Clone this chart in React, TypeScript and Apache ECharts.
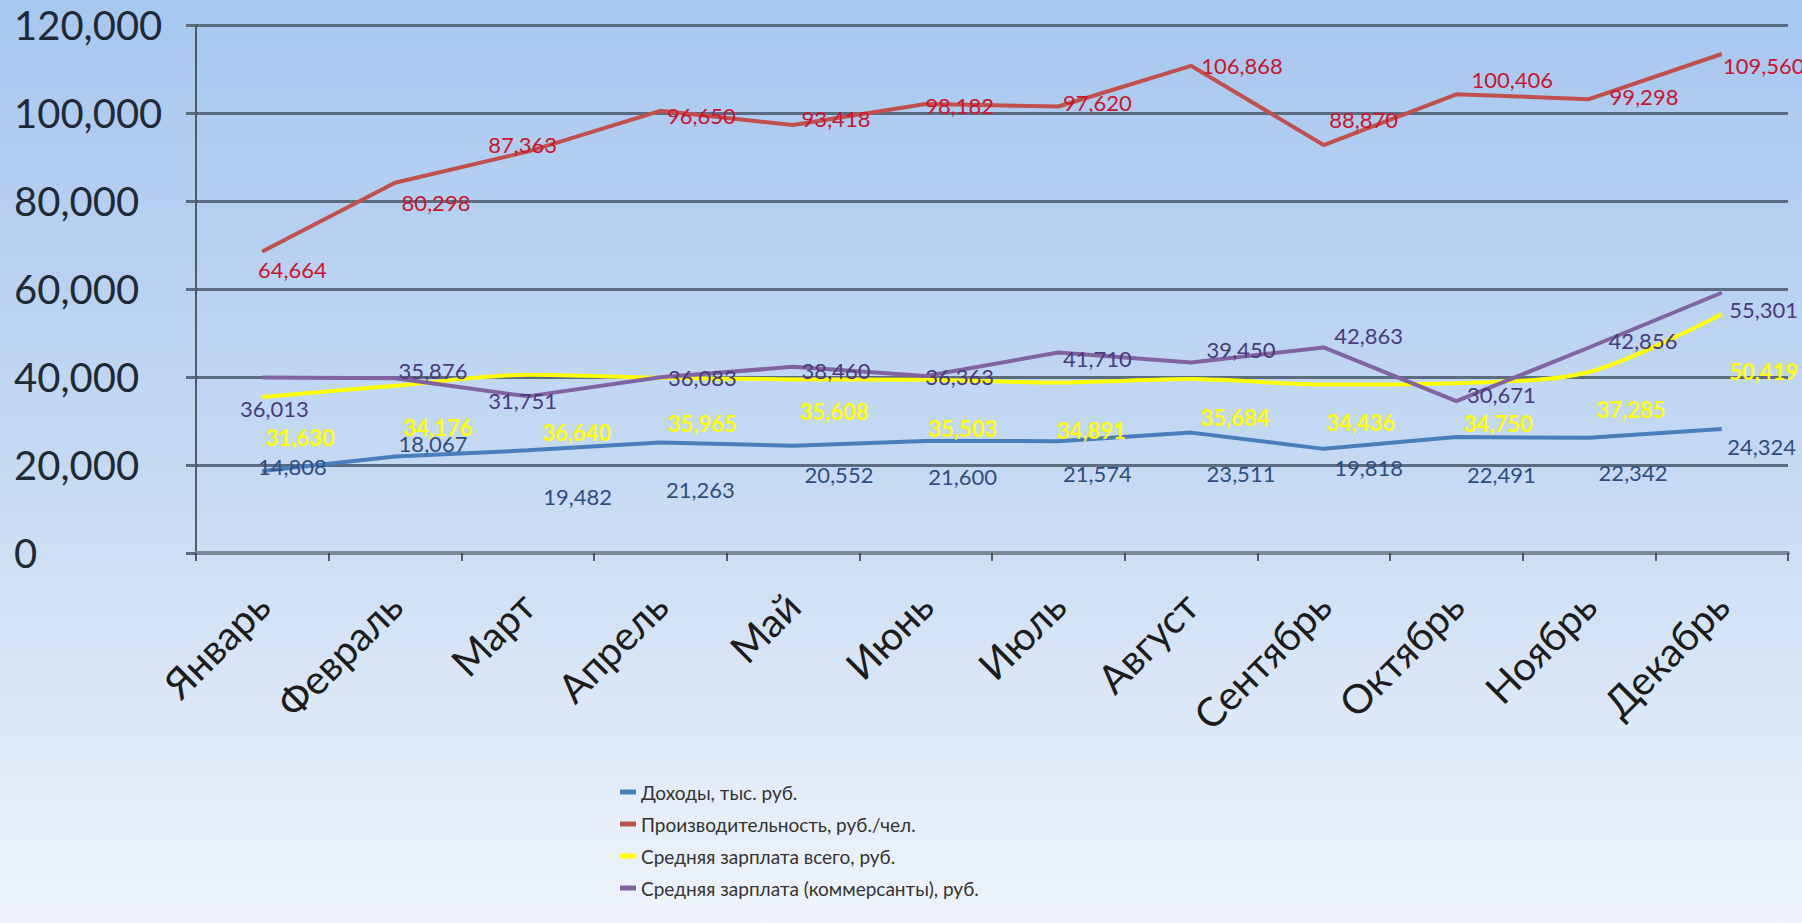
import React, { useEffect, useRef } from "react";
import * as echarts from "echarts";

const categories = ["Январь", "Февраль", "Март", "Апрель", "Май", "Июнь", "Июль", "Август", "Сентябрь", "Октябрь", "Ноябрь", "Декабрь"];
const seriesNames = [
  "Доходы, тыс. руб.",
  "Производительность, руб./чел.",
  "Средняя зарплата всего, руб.",
  "Средняя зарплата (коммерсанты), руб.",
];
const incomeValues = [14808, 18067, 19482, 21263, 20552, 21600, 21574, 23511, 19818, 22491, 22342, 24324];
const productivityValues = [64664, 80298, 87363, 96650, 93418, 98182, 97620, 106868, 88870, 100406, 99298, 109560];
const salaryAllValues = [31630, 34176, 36640, 35965, 35608, 35503, 34891, 35684, 34436, 34750, 37285, 50419];
const salaryTradeValues = [36013, 35876, 31751, 36083, 38460, 36363, 41710, 39450, 42863, 30671, 42856, 55301];
const yTicks = [0, 20000, 40000, 60000, 80000, 100000, 120000];

// label offsets (px) from each point, as placed in the reference
const incomeLabelOffsets = [[30, -4], [38, -13], [50, 46], [40, 47], [46, 29], [37, 35], [39, 32], [50, 41], [45, 19], [45, 37], [44, 35], [40, 17]];
const productivityLabelOffsets = [[30, 18], [41, 20], [-5, -7], [41, 5], [43, -7], [34, 1], [39, -4], [51, 0], [40, -26], [56, -15], [55, -3], [42, 12]];
const salaryAllLabelOffsets = [[38, 41], [43, 42], [49, 58], [42, 46], [41, 32], [37, 49], [33, 48], [44, 38], [37, 38], [42, 40], [42, 37], [42, 57]];
const salaryTradeLabelOffsets = [[12, 31], [38, -8], [-5, 4], [42, 0], [43, 4], [34, 0], [39, 6], [50, -13], [45, -12], [45, -7], [54, -7], [42, 17]];

const colors = ["#4a7ebb", "#c0504d", "#ffff00", "#8064a2"];
const labelColors = ["#2f4e7e", "#c8162e", "#ffff00", "#4a3a7c"];

const fmt = (v: number) => v.toLocaleString("en-US");

export default function App() {
  const ref = useRef<HTMLDivElement>(null);
  useEffect(() => {
    if (!ref.current) return;
    const chart = echarts.init(ref.current, undefined, { renderer: "svg" });
    const mk = (i: number, values: number[], offs: number[][], smooth: number | boolean, bold: boolean) => ({
      name: seriesNames[i],
      type: "line",
      yAxisIndex: 1,
      smooth,
      symbol: "circle",
      symbolSize: 1,
      itemStyle: { color: colors[i] },
      lineStyle: { color: colors[i], width: 4 },
      label: {
        show: true,
        position: "inside",
        color: labelColors[i],
        fontFamily: "Lato",
        fontSize: 22,
        fontWeight: bold ? "bold" : "normal",
        formatter: (p: any) => fmt(p.value),
      },
      data: values.map((v, k) => ({ value: v, label: { offset: offs[k] } })),
      z: 2 + i,
    });
    chart.setOption({
      animation: false,
      backgroundColor: {
        type: "linear",
        x: 0,
        y: 0,
        x2: 0,
        y2: 1,
        colorStops: [
          { offset: 0, color: "#a7c7ef" },
          { offset: 0.5, color: "#c5d9f3" },
          { offset: 1, color: "#eff4fb" },
        ],
      },
      grid: { left: 196, right: 14, top: 25, bottom: 370, containLabel: false },
      legend: {
        orient: "vertical",
        left: 615,
        top: 777,
        itemGap: 12,
        itemWidth: 16,
        itemHeight: 5,
        icon: "rect",
        data: seriesNames,
        textStyle: { fontFamily: "Lato", fontSize: 19, color: "#333", lineHeight: 20 },
      },
      xAxis: {
        type: "category",
        data: categories,
        boundaryGap: true,
        axisLine: { lineStyle: { color: "#7a8898", width: 4 } },
        axisTick: { show: true, length: 8, lineStyle: { color: "#333", width: 1.5 } },
        axisLabel: {
          rotate: 45,
          margin: 46,
          fontFamily: "Lato",
          fontSize: 40,
          color: "#1c1c1c",
        },
      },
      yAxis: [
        {
          type: "value",
          min: yTicks[0],
          max: yTicks[yTicks.length - 1],
          interval: 20000,
          axisLine: { show: true, lineStyle: { color: "#333", width: 1.5 } },
          axisTick: { show: true, length: 10, lineStyle: { color: "#5b6b80", width: 3 } },
          splitLine: { show: true, lineStyle: { color: "#5b6b80", width: 3 } },
          axisLabel: {
            align: "left",
            margin: 182,
            fontFamily: "Lato",
            fontSize: 40,
            color: "#1f2a36",
            formatter: (v: number) => fmt(v),
          },
        },
        {
          type: "value",
          show: false,
          min: -3850,
          max: 116150,
          splitLine: { show: false },
        },
      ],
      series: [
        mk(0, incomeValues, incomeLabelOffsets, false, false),
        mk(1, productivityValues, productivityLabelOffsets, false, false),
        mk(2, salaryAllValues, salaryAllLabelOffsets, 0.3, true),
        mk(3, salaryTradeValues, salaryTradeLabelOffsets, false, false),
      ],
    });
    return () => chart.dispose();
  }, []);
  return <div ref={ref} style={{ position: "fixed", left: 0, top: 0, width: 1802, height: 923 }} />;
}
